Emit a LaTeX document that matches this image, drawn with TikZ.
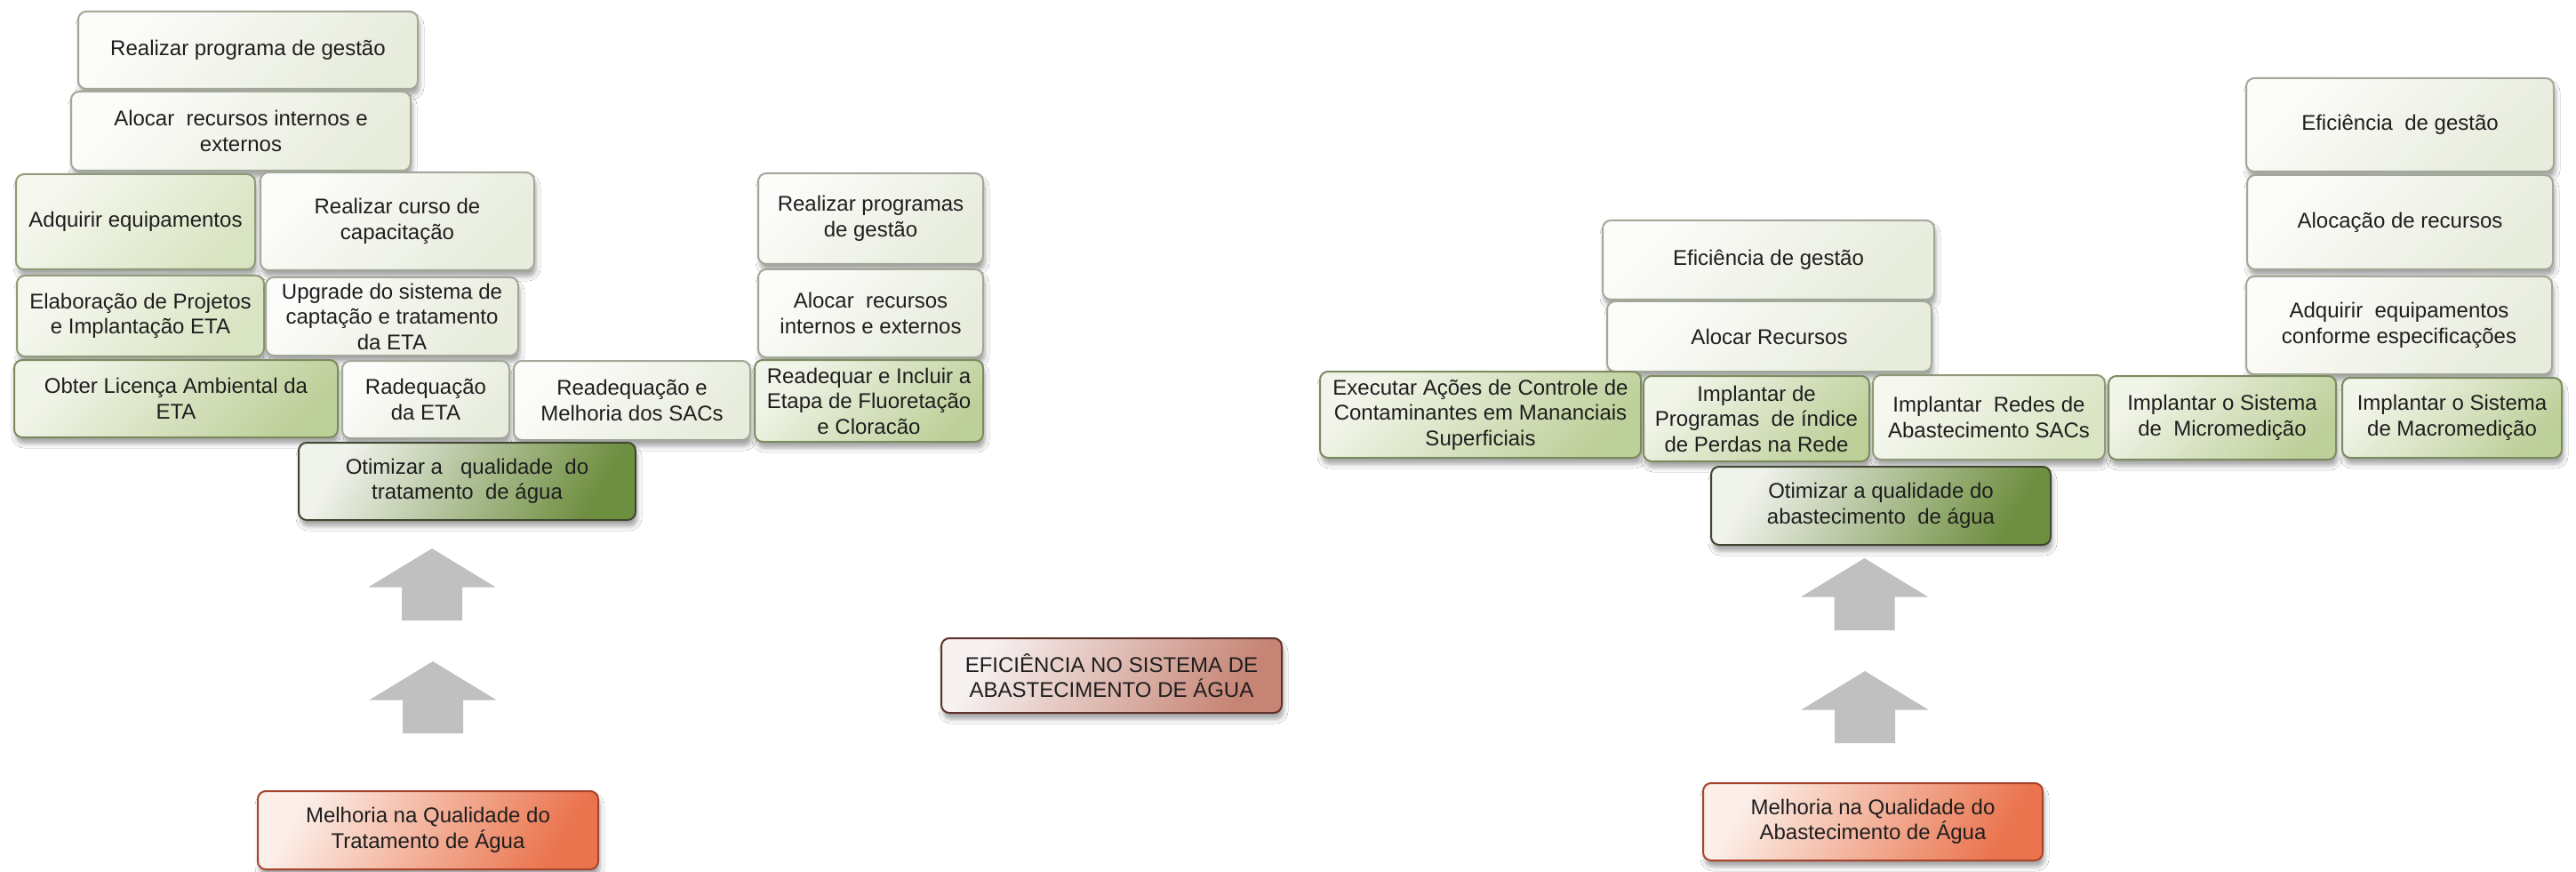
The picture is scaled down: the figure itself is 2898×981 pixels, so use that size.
\documentclass[tikz,border=0pt]{standalone}
\usepackage{fontspec}
\setmainfont{Liberation Sans}
\usetikzlibrary{shadows.blur}
\definecolor{paleA}{HTML}{FCFCFA}
\definecolor{paleB}{HTML}{E7ECDC}
\definecolor{paleBd}{HTML}{A2A898}
\definecolor{mildA}{HTML}{F6F8F0}
\definecolor{mildB}{HTML}{D9E4C2}
\definecolor{mildBd}{HTML}{8F9A78}
\definecolor{greenA}{HTML}{F2F5EA}
\definecolor{greenB}{HTML}{BED09A}
\definecolor{greenBd}{HTML}{7C8B5E}
\definecolor{dgA}{HTML}{F0F2EC}
\definecolor{dgB}{HTML}{6E8E40}
\definecolor{dgBd}{HTML}{3E4632}
\definecolor{salA}{HTML}{FCEEE8}
\definecolor{salB}{HTML}{EA744D}
\definecolor{salBd}{HTML}{A8442A}
\definecolor{cenA}{HTML}{F7F1F1}
\definecolor{cenB}{HTML}{C68474}
\definecolor{cenBd}{HTML}{5E332A}
\definecolor{arrowgray}{HTML}{C0C0C0}
\definecolor{txt}{HTML}{1E1E1E}
\newcommand\boxfont{\fontsize{24}{28.5}\selectfont}
\newcommand\blockarrow[3]{\fill[arrowgray] (#2-34,-#3-81) -- (#2-34,-#3-43.5) -- (#2-71.5,-#3-43.5) -- (#2,-#3) coordinate (#1) -- (#2+71.5,-#3-43.5) -- (#2+34,-#3-43.5) -- (#2+34,-#3-81) -- cycle;}
\tikzset{
  box/.style={rounded corners=9pt, line width=2pt, align=center, inner sep=1pt,
    font=\boxfont, text=txt,
    blur shadow={shadow xshift=2pt, shadow yshift=-7pt, shadow blur radius=5pt, shadow opacity=35}},
  pale/.style={box, draw=paleBd, top color=paleA, bottom color=paleB, shading angle=45},
  mild/.style={box, draw=mildBd, top color=mildA, bottom color=mildB, shading angle=45},
  greenbox/.style={box, draw=greenBd, top color=greenA, bottom color=greenB, shading angle=45},
  dark/.style={box, draw=dgBd, top color=dgA, bottom color=dgB, shading angle=60},
  salmon/.style={box, draw=salBd, top color=salA, bottom color=salB, shading angle=60},
  mainbox/.style={box, draw=cenBd, top color=cenA, bottom color=cenB, shading angle=60},
  sz/.style 2 args={minimum width=#1pt, minimum height=#2pt}
}
\begin{document}
\begin{tikzpicture}[x=1pt,y=1pt]
\useasboundingbox (0,0) rectangle (2898,-981);
\fill[white] (0,0) rectangle (2898,-981);

% ---------- left group ----------
\node[pale, sz={382}{87}] (lreal) at (279,-56.5) {Realizar programa de gestão};
\node[pale, sz={382}{89}] (laloc) at (271,-147.5) {Alocar\ \ recursos internos e\\externos};
\node[mild, sz={269}{107}] (ladq) at (152.5,-249.5) {Adquirir equipamentos};
\node[pale, sz={308}{110}] (lcurso) at (447,-249) {Realizar curso de\\capacitação};
\node[pale, sz={253}{102}] (lreal2) at (979.5,-246) {Realizar programas\\de gestão};
\node[mild, sz={278}{91}] (lelab) at (158,-355.5) {Elaboração de Projetos\\e Implantação ETA};
\node[pale, sz={284}{88}] (lupg) at (441,-356) {Upgrade do sistema de\\captação e tratamento\\da ETA};
\node[pale, sz={253}{99}] (laloc2) at (979.5,-352.5) {Alocar\ \ recursos\\internos e externos};
\node[greenbox, sz={364}{87}] (lobter) at (198,-448.5) {Obter Licença Ambiental da\\ETA};
\node[pale, sz={188}{87}] (lradeq) at (479,-449.5) {Radequação\\da ETA};
\node[pale, sz={266}{89}] (lreadeq) at (711,-450.5) {Readequação e\\Melhoria dos SACs};
\node[greenbox, sz={257}{92}] (lincl) at (977.5,-451) {Readequar e Incluir a\\Etapa de Fluoretação\\e Cloracão};
\node[dark, sz={379}{87}] (lotim) at (525.5,-541.5) {Otimizar a\ \ \ qualidade\ \ do\\tratamento\ \ de água};

\blockarrow{la1}{486}{617}
\blockarrow{la2}{487}{744}

\node[salmon, sz={383}{88}] (lmelh) at (481.5,-934) {Melhoria na Qualidade do\\Tratamento de Água};

% ---------- centre ----------
\node[mainbox, sz={383}{84}] (main) at (1250.5,-760) {EFICIÊNCIA NO SISTEMA DE\\ABASTECIMENTO DE ÁGUA};

% ---------- right group ----------
\node[pale, sz={346}{105}] (refic2) at (2700,-140.5) {Eficiência\ \ de gestão};
\node[pale, sz={344}{106}] (raloc3) at (2700,-250) {Alocação de recursos};
\node[pale, sz={373}{89}] (refic) at (1989.5,-292.5) {Eficiência de gestão};
\node[pale, sz={344}{110}] (radq) at (2699,-366) {Adquirir\ \ equipamentos\\conforme especificações};
\node[pale, sz={365}{79}] (raloc) at (1990.5,-378.5) {Alocar Recursos};
\node[greenbox, sz={361}{97}] (rexec) at (1665.5,-466.5) {Executar Ações de Controle de\\Contaminantes em Mananciais\\Superficiais};
\node[greenbox, sz={254}{96}] (rimpl) at (1976,-471) {Implantar de\\Programas\ \ de índice\\de Perdas na Rede};
\node[mild, sz={261}{95}] (rredes) at (2237.5,-469.5) {Implantar\ \ Redes de\\Abastecimento SACs};
\node[greenbox, sz={256}{94}] (rmicro) at (2500,-470) {Implantar o Sistema\\de\ \ Micromedição};
\node[greenbox, sz={247}{90}] (rmacro) at (2758.5,-470) {Implantar o Sistema\\de Macromedição};
\node[dark, sz={382}{88}] (rotim) at (2116,-569) {Otimizar a qualidade do\\abastecimento\ \ de água};

\blockarrow{ra1}{2097.5}{628}
\blockarrow{ra2}{2098}{755}

\node[salmon, sz={382}{87}] (rmelh) at (2107,-924.5) {Melhoria na Qualidade do\\Abastecimento de Água};
\end{tikzpicture}
\end{document}
